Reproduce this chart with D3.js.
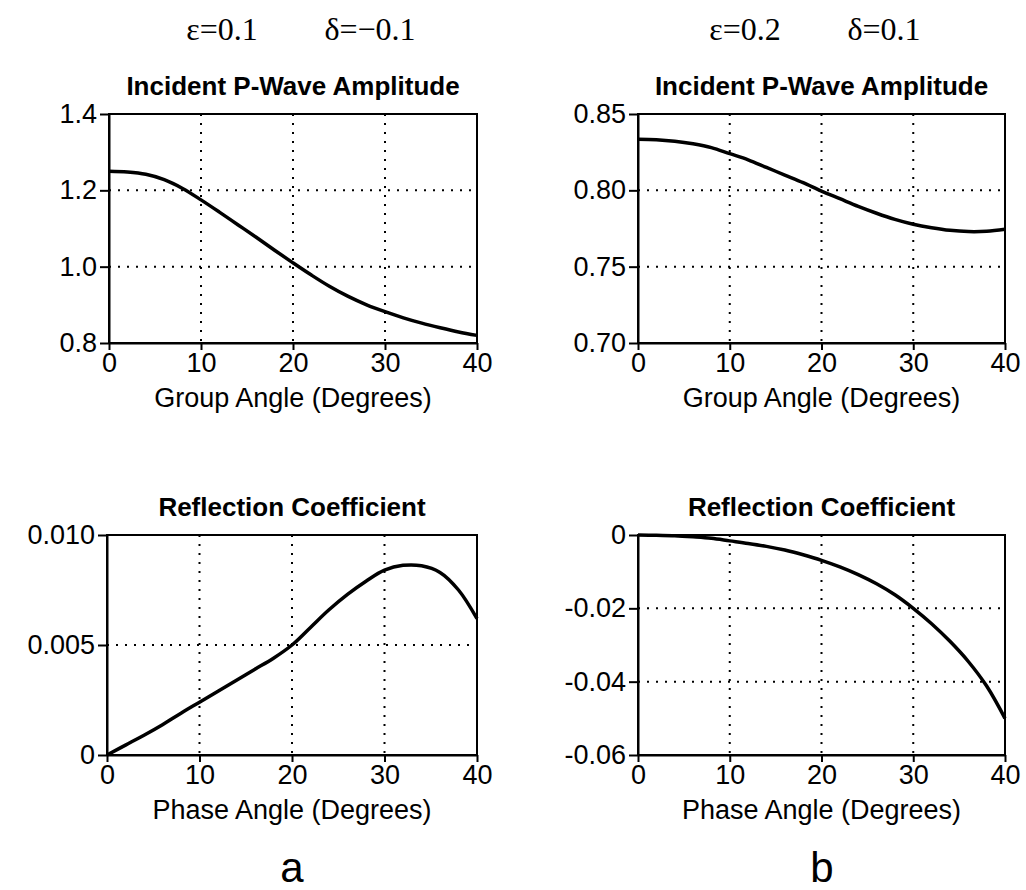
<!DOCTYPE html>
<html>
<head>
<meta charset="utf-8">
<script src="https://cdn.jsdelivr.net/npm/d3@7"></script>
<style>
  body { margin: 0; background: #fff; }
  text { font-family: "Liberation Sans", Arial, sans-serif; fill: #000; }
</style>
</head>
<body>
<svg id="chart" width="1026" height="890"></svg>
<script>
// angles (degrees) shared by all four curves
const angles = [0, 2, 4, 6, 8, 10, 12, 14, 16, 18, 20, 22, 24, 26, 28, 30, 32, 34, 36, 38, 40];

// incident P-wave amplitude vs group angle
const ampA = [1.250, 1.248, 1.242, 1.228, 1.205, 1.175, 1.143, 1.110, 1.077, 1.043, 1.010, 0.978, 0.948, 0.922, 0.900, 0.882, 0.866, 0.852, 0.840, 0.829, 0.820];
const ampB = [0.8335, 0.8332, 0.8322, 0.8305, 0.8280, 0.8240, 0.8200, 0.8150, 0.8100, 0.8050, 0.7995, 0.7945, 0.7895, 0.7850, 0.7810, 0.7778, 0.7755, 0.7738, 0.7730, 0.7732, 0.7745];

// reflection coefficient vs phase angle
const reflA = [0, 0.00045, 0.0009, 0.00138, 0.0019, 0.0024, 0.0029, 0.0034, 0.0039, 0.0044, 0.0050, 0.0058, 0.0066, 0.0073, 0.0079, 0.0084, 0.00862, 0.0086, 0.0083, 0.0075, 0.0062];
const reflB = [0, -0.0001, -0.0002, -0.0005, -0.0009, -0.0016, -0.0023, -0.0031, -0.0041, -0.0054, -0.0069, -0.0087, -0.0108, -0.0133, -0.0163, -0.0200, -0.0242, -0.0290, -0.0345, -0.0412, -0.0500];

// tick values and labels
const xTicks = [0, 10, 20, 30, 40];
const yTicksAmpA = [0.8, 1.0, 1.2, 1.4];
const yLabelsAmpA = ['0.8', '1.0', '1.2', '1.4'];
const yTicksAmpB = [0.70, 0.75, 0.80, 0.85];
const yLabelsAmpB = ['0.70', '0.75', '0.80', '0.85'];
const yTicksReflA = [0, 0.005, 0.010];
const yLabelsReflA = ['0', '0.005', '0.010'];
const yTicksReflB = [-0.06, -0.04, -0.02, 0];
const yLabelsReflB = ['-0.06', '-0.04', '-0.02', '0'];

const svg = d3.select('#chart');

const panels = [
  {x0: 109, x1: 477, y0: 114, y1: 343, vals: ampA, ticks: yTicksAmpA, labels: yLabelsAmpA,
   title: 'Incident P-Wave Amplitude', xlab: 'Group Angle (Degrees)'},
  {x0: 638, x1: 1005, y0: 114, y1: 343, vals: ampB, ticks: yTicksAmpB, labels: yLabelsAmpB,
   title: 'Incident P-Wave Amplitude', xlab: 'Group Angle (Degrees)'},
  {x0: 107, x1: 477, y0: 535, y1: 755, vals: reflA, ticks: yTicksReflA, labels: yLabelsReflA,
   title: 'Reflection Coefficient', xlab: 'Phase Angle (Degrees)'},
  {x0: 638, x1: 1005, y0: 535, y1: 755, vals: reflB, ticks: yTicksReflB, labels: yLabelsReflB,
   title: 'Reflection Coefficient', xlab: 'Phase Angle (Degrees)'}
];

panels.forEach(p => {
  const x = d3.scaleLinear().domain([0, 40]).range([p.x0, p.x1]);
  const y = d3.scaleLinear().domain(d3.extent(p.ticks)).range([p.y1, p.y0]);
  const g = svg.append('g');

  // dotted grid on the inner ticks
  g.selectAll('.vg').data(xTicks.slice(1, -1)).enter().append('line')
    .attr('x1', d => x(d)).attr('x2', d => x(d)).attr('y1', p.y0).attr('y2', p.y1)
    .attr('stroke', '#000').attr('stroke-width', 2).attr('stroke-dasharray', '2,7');
  g.selectAll('.hg').data(p.ticks.slice(1, -1)).enter().append('line')
    .attr('x1', p.x0).attr('x2', p.x1).attr('y1', d => y(d)).attr('y2', d => y(d))
    .attr('stroke', '#000').attr('stroke-width', 2).attr('stroke-dasharray', '2,7');

  // frame
  g.append('rect').attr('x', p.x0).attr('y', p.y0)
    .attr('width', p.x1 - p.x0).attr('height', p.y1 - p.y0)
    .attr('fill', 'none').attr('stroke', '#000').attr('stroke-width', 2);

  // axes
  const xa = g.append('g').attr('transform', `translate(0,${p.y1})`)
    .call(d3.axisBottom(x).tickValues(xTicks).tickSize(7).tickSizeOuter(0).tickPadding(3));
  const ya = g.append('g').attr('transform', `translate(${p.x0},0)`)
    .call(d3.axisLeft(y).tickValues(p.ticks).tickFormat((d, i) => p.labels[i]).tickSize(9).tickSizeOuter(0).tickPadding(3));
  [xa, ya].forEach(a => {
    a.select('.domain').attr('stroke-width', 2);
    a.selectAll('line').attr('stroke-width', 2);
    a.selectAll('text').attr('font-size', 27).attr('font-family', '"Liberation Sans", Arial, sans-serif');
  });

  // curve
  const line = d3.line().x((d, i) => x(angles[i])).y(d => y(d)).curve(d3.curveCatmullRom);
  g.append('path').datum(p.vals).attr('d', line)
    .attr('fill', 'none').attr('stroke', '#000').attr('stroke-width', 3.5);

  // titles
  const cx = (p.x0 + p.x1) / 2;
  g.append('text').attr('x', cx).attr('y', p.y0 - 19).attr('text-anchor', 'middle')
    .attr('font-size', 26).attr('font-weight', 'bold').text(p.title);
  g.append('text').attr('x', cx).attr('y', p.y1 + 64).attr('text-anchor', 'middle')
    .attr('font-size', 27).text(p.xlab);
});

// parameter labels
const params = [
  {x: 222, t: 'ε=0.1'}, {x: 370, t: 'δ=−0.1'},
  {x: 745, t: 'ε=0.2'}, {x: 884, t: 'δ=0.1'}
];
svg.selectAll('.param').data(params).enter().append('text')
  .attr('x', d => d.x).attr('y', 40).attr('text-anchor', 'middle')
  .style('font-family', '"Liberation Serif", "Times New Roman", serif')
  .attr('font-size', 32).text(d => d.t);

// panel letters
svg.append('text').attr('x', 292).attr('y', 882).attr('text-anchor', 'middle').attr('font-size', 42).text('a');
svg.append('text').attr('x', 822).attr('y', 882).attr('text-anchor', 'middle').attr('font-size', 42).text('b');
</script>
</body>
</html>
